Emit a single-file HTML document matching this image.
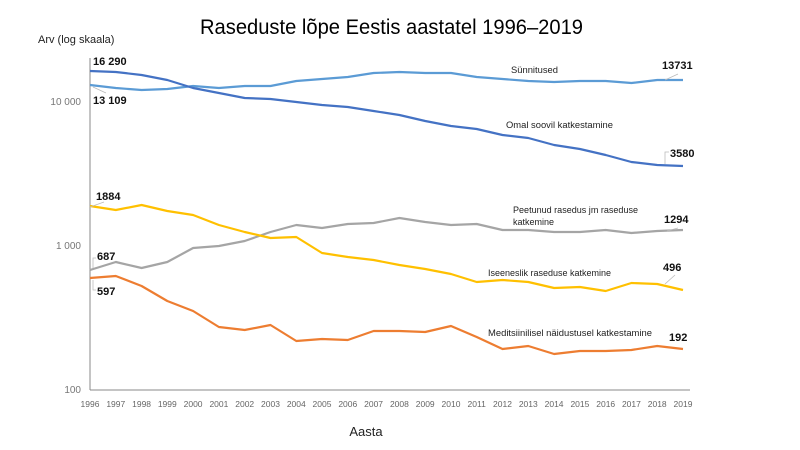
<!DOCTYPE html>
<html><head><meta charset="utf-8"><style>
body{margin:0;background:#fff;}
svg{display:block;font-family:"Liberation Sans",sans-serif;}
</style></head><body>
<svg width="800" height="450" viewBox="0 0 800 450">
<text x="200" y="34" font-size="21" textLength="383" lengthAdjust="spacingAndGlyphs" fill="#000">Raseduste lõpe Eestis aastatel 1996–2019</text>
<text x="38" y="43" font-size="11" fill="#222">Arv (log skaala)</text>
<line x1="90" y1="58" x2="90" y2="390" stroke="#888" stroke-width="1"/>
<line x1="90" y1="390" x2="690" y2="390" stroke="#888" stroke-width="1"/>
<g font-size="10" fill="#777" text-anchor="end">
<text x="81" y="105">10 000</text><text x="81" y="249">1 000</text><text x="81" y="393">100</text>
</g>
<g font-size="8.5" fill="#666" text-anchor="middle">
<text x="90" y="407">1996</text><text x="115.8" y="407">1997</text><text x="141.6" y="407">1998</text><text x="167.3" y="407">1999</text><text x="193.1" y="407">2000</text><text x="218.9" y="407">2001</text><text x="244.7" y="407">2002</text><text x="270.5" y="407">2003</text><text x="296.3" y="407">2004</text><text x="322" y="407">2005</text><text x="347.8" y="407">2006</text><text x="373.6" y="407">2007</text><text x="399.4" y="407">2008</text><text x="425.2" y="407">2009</text><text x="451" y="407">2010</text><text x="476.7" y="407">2011</text><text x="502.5" y="407">2012</text><text x="528.3" y="407">2013</text><text x="554.1" y="407">2014</text><text x="579.9" y="407">2015</text><text x="605.7" y="407">2016</text><text x="631.4" y="407">2017</text><text x="657.2" y="407">2018</text><text x="683" y="407">2019</text>
</g>
<text x="366" y="436" font-size="13" text-anchor="middle" fill="#222">Aasta</text>
<g fill="none" stroke-width="2.2" stroke-linejoin="round">
<polyline stroke="#5B9BD5" points="90,85 115.8,88 141.6,90 167.3,89 193.1,86 218.9,88 244.7,86 270.5,86 296.3,81 322,79 347.8,77 373.6,73 399.4,72 425.2,73 451,73 476.7,77 502.5,79 528.3,81 554.1,82 579.9,81 605.7,81 631.4,83 657.2,80 683,80"/>
<polyline stroke="#4472C4" points="90,71 115.8,72 141.6,75 167.3,80 193.1,88 218.9,93 244.7,98 270.5,99 296.3,102 322,105 347.8,107 373.6,111 399.4,115 425.2,121 451,126 476.7,129 502.5,135 528.3,138 554.1,145 579.9,149 605.7,155 631.4,162 657.2,165 683,166"/>
<polyline stroke="#A5A5A5" points="90,270 115.8,262 141.6,268 167.3,262 193.1,248 218.9,246 244.7,241 270.5,232 296.3,225 322,228 347.8,224 373.6,223 399.4,218 425.2,222 451,225 476.7,224 502.5,230 528.3,230 554.1,232 579.9,232 605.7,230 631.4,233 657.2,231 683,230"/>
<polyline stroke="#FFC000" points="90,206 115.8,210 141.6,205 167.3,211 193.1,215 218.9,225 244.7,232 270.5,238 296.3,237 322,253 347.8,257 373.6,260 399.4,265 425.2,269 451,274 476.7,282 502.5,280 528.3,282 554.1,288 579.9,287 605.7,291 631.4,283 657.2,284 683,290"/>
<polyline stroke="#ED7D31" points="90,278 115.8,276 141.6,286 167.3,301 193.1,311 218.9,327 244.7,330 270.5,325 296.3,341 322,339 347.8,340 373.6,331 399.4,331 425.2,332 451,326 476.7,337 502.5,349 528.3,346 554.1,354 579.9,351 605.7,351 631.4,350 657.2,346 683,349"/>
</g>
<g stroke="#bbb" stroke-width="0.8" fill="none">
<polyline points="93,87 106,93"/><polyline points="90,207 104,202"/><polyline points="93,268 93,258 96,258"/><polyline points="93,280 93,290 96,290"/><polyline points="665,80 678,74"/><polyline points="665,164 665,152 669,152"/><polyline points="667,231 678,228"/><polyline points="665,284 675,275"/>
</g>
<g font-size="11" font-weight="bold" fill="#111">
<text x="93" y="65">16 290</text><text x="93" y="104">13 109</text>
<text x="96" y="200">1884</text><text x="97" y="260">687</text><text x="97" y="295">597</text>
<text x="662" y="69">13731</text><text x="670" y="157">3580</text><text x="664" y="223">1294</text><text x="663" y="271">496</text><text x="669" y="341">192</text>
</g>
<g font-size="9" fill="#222">
<text x="511" y="73" textLength="47" lengthAdjust="spacingAndGlyphs">Sünnitused</text>
<text x="506" y="128" textLength="107" lengthAdjust="spacingAndGlyphs">Omal soovil katkestamine</text>
<text x="513" y="213" textLength="125" lengthAdjust="spacingAndGlyphs">Peetunud rasedus jm  raseduse</text>
<text x="513" y="225">katkemine</text>
<text x="488" y="276" textLength="123" lengthAdjust="spacingAndGlyphs">Iseeneslik raseduse katkemine</text>
<text x="488" y="336" textLength="164" lengthAdjust="spacingAndGlyphs">Meditsiinilisel näidustusel katkestamine</text>
</g>
</svg>
</body></html>
